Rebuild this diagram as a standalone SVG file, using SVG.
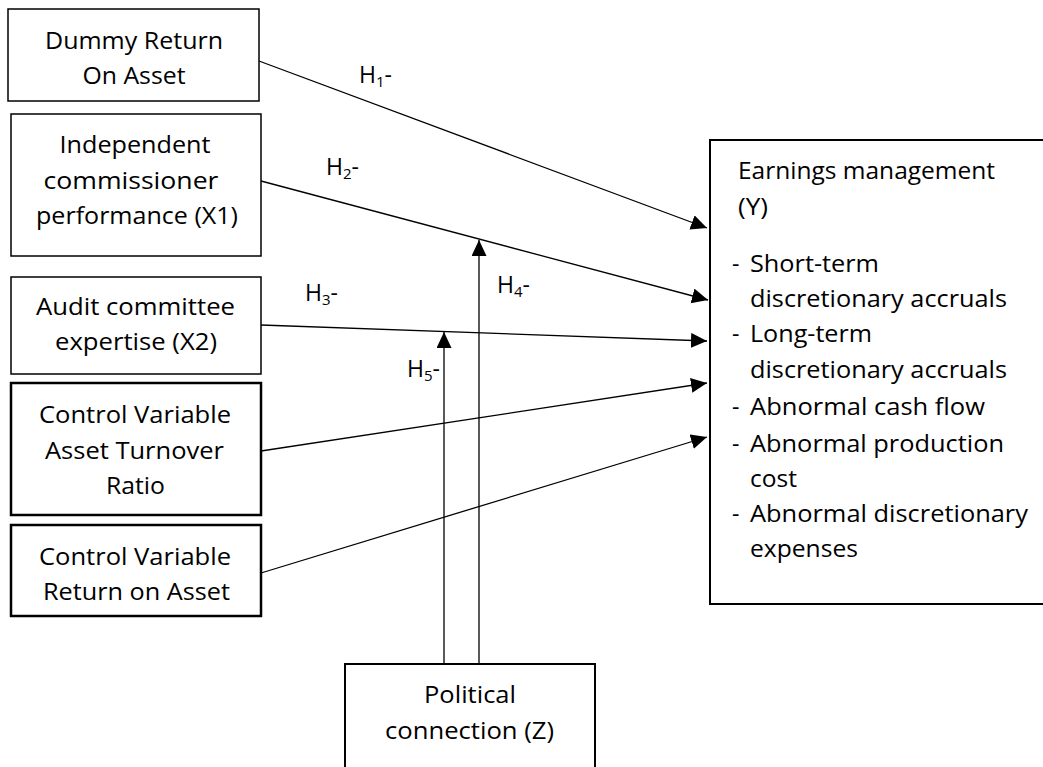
<svg xmlns="http://www.w3.org/2000/svg" width="1043" height="767" viewBox="0 0 1043 767">
<defs>
<style>
text{font-family:"Open Sans",Lato,"Liberation Sans",sans-serif;font-size:23px;fill:#000}
.c{text-anchor:middle}
.box{fill:#fff;stroke:#000;stroke-width:1.5}
.thick{stroke-width:2.5}
.med{stroke-width:2}
.con{stroke:#000;stroke-width:1.3;fill:none;marker-end:url(#ah)}
.sub{font-size:15px}
</style>
<marker id="ah" markerUnits="userSpaceOnUse" markerWidth="18" markerHeight="16" refX="16" refY="7.5" orient="auto">
<path d="M0,0 L16,7.5 L0,15 z" fill="#000"/>
</marker>
</defs>
<rect width="1043" height="767" fill="#fff"/>

<g id="connectors">
<line class="con" x1="259" y1="61" x2="707" y2="228"/>
<line class="con" x1="261" y1="181" x2="708" y2="300"/>
<line class="con" x1="261" y1="325" x2="707" y2="341"/>
<line class="con" x1="261" y1="451" x2="707" y2="383"/>
<line class="con" x1="261" y1="573" x2="707" y2="437"/>
<line class="con" x1="444" y1="664" x2="444" y2="332"/>
<line class="con" x1="479" y1="664" x2="479" y2="240"/>
<text x="359" y="83">H<tspan class="sub" dy="4">1</tspan><tspan dy="-4">-</tspan></text>
<text x="326" y="175">H<tspan class="sub" dy="4">2</tspan><tspan dy="-4">-</tspan></text>
<text x="305" y="301">H<tspan class="sub" dy="4">3</tspan><tspan dy="-4">-</tspan></text>
<text x="497" y="293">H<tspan class="sub" dy="4">4</tspan><tspan dy="-4">-</tspan></text>
<text x="407" y="377">H<tspan class="sub" dy="4">5</tspan><tspan dy="-4">-</tspan></text>
</g>

<g id="dummy-roa">
<rect class="box" x="8" y="9" width="251" height="92"/>
<text class="c" x="134" y="49" textLength="178" lengthAdjust="spacingAndGlyphs">Dummy Return</text>
<text class="c" x="134" y="84" textLength="103" lengthAdjust="spacingAndGlyphs">On Asset</text>
</g>

<g id="x1">
<rect class="box" x="11" y="114" width="250" height="142"/>
<text class="c" x="135" y="153" textLength="151" lengthAdjust="spacingAndGlyphs">Independent</text>
<text class="c" x="131" y="189" textLength="175" lengthAdjust="spacingAndGlyphs">commissioner</text>
<text class="c" x="137" y="224" textLength="202" lengthAdjust="spacingAndGlyphs">performance (X1)</text>
</g>

<g id="x2">
<rect class="box" x="11" y="277" width="250" height="97"/>
<text class="c" x="135.5" y="315" textLength="199" lengthAdjust="spacingAndGlyphs">Audit committee</text>
<text class="c" x="136" y="350" textLength="162" lengthAdjust="spacingAndGlyphs">expertise (X2)</text>
</g>

<g id="control-atr">
<rect class="box thick" x="11" y="383" width="250" height="132"/>
<text class="c" x="135" y="423" textLength="192" lengthAdjust="spacingAndGlyphs">Control Variable</text>
<text class="c" x="134.5" y="459" textLength="179" lengthAdjust="spacingAndGlyphs">Asset Turnover</text>
<text class="c" x="135.5" y="494" textLength="59" lengthAdjust="spacingAndGlyphs">Ratio</text>
</g>

<g id="control-roa">
<rect class="box thick" x="11" y="525" width="250" height="91"/>
<text class="c" x="135" y="565" textLength="192" lengthAdjust="spacingAndGlyphs">Control Variable</text>
<text class="c" x="136.5" y="600" textLength="187" lengthAdjust="spacingAndGlyphs">Return on Asset</text>
</g>

<g id="y">
<rect class="box med" x="710" y="140" width="345" height="464"/>
<text x="738" y="179" textLength="257" lengthAdjust="spacingAndGlyphs">Earnings management</text>
<text x="738" y="215" textLength="30" lengthAdjust="spacingAndGlyphs">(Y)</text>
<text x="732" y="272">-</text>
<text x="750" y="272" textLength="129" lengthAdjust="spacingAndGlyphs">Short-term</text>
<text x="750" y="307" textLength="257" lengthAdjust="spacingAndGlyphs">discretionary accruals</text>
<text x="732" y="342">-</text>
<text x="750" y="342" textLength="122" lengthAdjust="spacingAndGlyphs">Long-term</text>
<text x="750" y="378" textLength="257" lengthAdjust="spacingAndGlyphs">discretionary accruals</text>
<text x="732" y="415">-</text>
<text x="750" y="415" textLength="235" lengthAdjust="spacingAndGlyphs">Abnormal cash flow</text>
<text x="732" y="452">-</text>
<text x="750" y="452" textLength="254" lengthAdjust="spacingAndGlyphs">Abnormal production</text>
<text x="750" y="487" textLength="47" lengthAdjust="spacingAndGlyphs">cost</text>
<text x="732" y="522">-</text>
<text x="750" y="522" textLength="278" lengthAdjust="spacingAndGlyphs">Abnormal discretionary</text>
<text x="750" y="557" textLength="108" lengthAdjust="spacingAndGlyphs">expenses</text>
</g>

<g id="z">
<rect class="box med" x="345" y="664" width="250" height="115"/>
<text class="c" x="470" y="703" textLength="92" lengthAdjust="spacingAndGlyphs">Political</text>
<text class="c" x="469.5" y="739" textLength="169" lengthAdjust="spacingAndGlyphs">connection (Z)</text>
</g>
</svg>
